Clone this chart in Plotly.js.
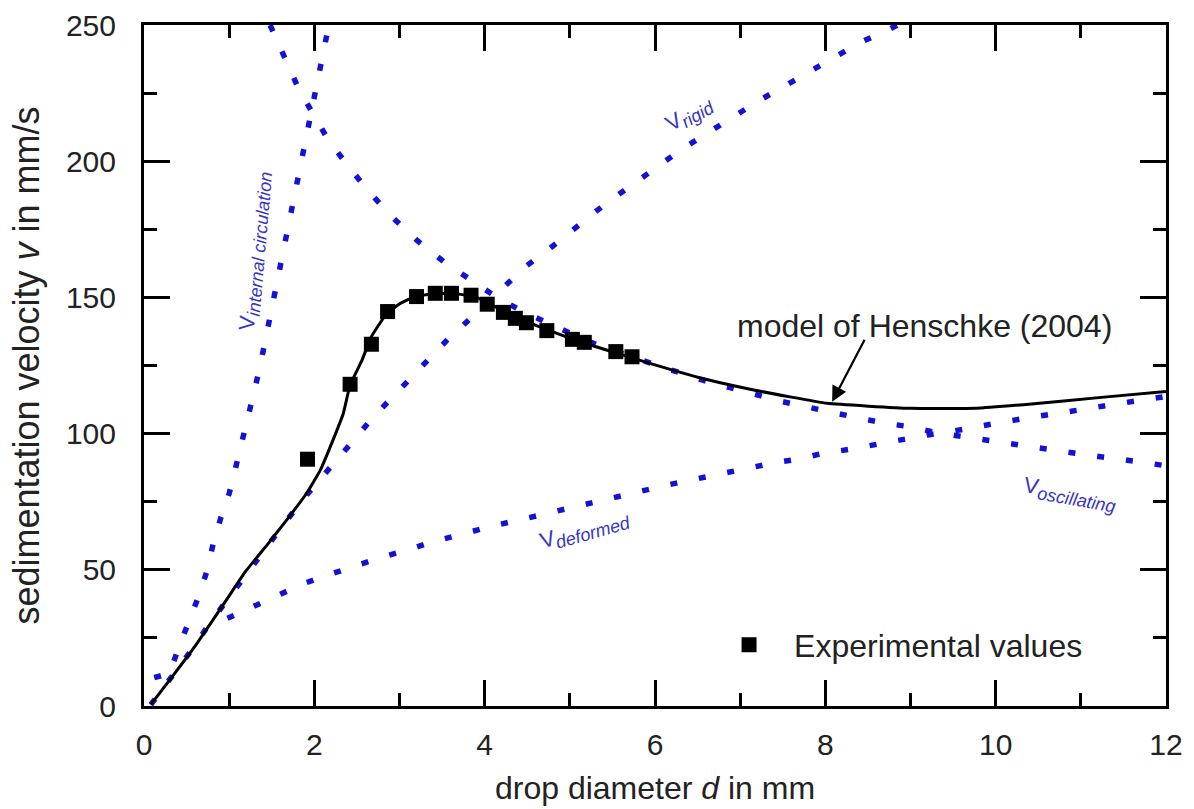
<!DOCTYPE html>
<html>
<head>
<meta charset="utf-8">
<script src="https://cdn.plot.ly/plotly-3.0.1.min.js"></script>
<style>html,body{margin:0;padding:0;background:#fff;}#chart{width:1194px;height:809px;}</style>
</head>
<body>
<div id="chart"></div>
<script>
// Experimental values
var expD = [1.92,2.42,2.67,2.86,3.20,3.42,3.61,3.84,4.03,4.22,4.36,4.49,4.73,5.03,5.17,5.54,5.73];
var expV = [90.6,118.1,132.8,144.8,150.3,151.5,151.5,150.8,147.5,144.5,142.3,140.7,137.8,134.6,133.5,130.1,128.2];

// Model of Henschke (2004)
var modelD = [0.08,0.3,0.6,0.98,1.19,1.46,1.69,1.91,2.07,2.22,2.34,2.42,2.56,2.67,2.85,3.01,3.18,3.45,3.7,3.9,4.1,4.5,5.0,5.5,5.94,6.55,7.16,8.02,8.99,9.77,10.42,11.24,12.0];
var modelV = [0.5,9.5,22,39.5,49.3,59.7,68.9,78.1,86.6,97.7,107.4,117.8,127,135.6,144.1,147.8,150.3,151.5,151.2,150,147,141,135,130,125.8,120.3,116,111.1,109.3,109.3,110.9,113.3,115.5];

// v_rigid
var rigidD = [0.08,0.56,0.77,1.0,1.44,1.68,1.91,2.16,2.43,2.69,2.98,3.27,3.57,3.87,4.16,4.48,4.79,5.09,5.40,5.70,6.00,6.30,6.61,6.92,7.22,7.52,7.83,8.14,8.43,8.75,8.85];
var rigidV = [0.5,20.6,30.3,40,58.5,68.3,77.5,86.9,96.4,106,115.6,125.2,134.7,143.3,152.1,161.3,168.6,176.3,183.9,190.6,197.4,204.1,210.2,216.6,222.2,227.6,233.1,238.7,243.9,248.4,250];

// v_oscillating
var oscD = [1.48,1.54,1.68,1.81,1.98,2.16,2.38,2.63,2.91,3.21,3.52,3.82,4.10,4.41,4.73,5.02,5.33,5.6,6.0,6.55,7.14,7.46,7.77,8.06,8.38,8.70,9.02,9.31,9.61,9.91,10.22,10.52,10.83,11.13,11.44,11.75,12.0];
var oscV = [250,246,236.5,227,217.6,208,198.9,189.2,179.6,170.8,163.1,157,150.9,145.4,140.5,136.6,132.5,129.5,125.3,119.7,114.4,112,109.9,107.8,105.8,103.8,102.4,100.3,98.9,97.4,95.8,94.3,93.1,91.9,90.7,89.3,88.2];

// v_deformed
var defD = [0.98,1.29,1.60,1.88,2.20,2.50,2.81,3.12,3.42,3.73,4.03,4.5,5.0,5.5,6.14,6.46,6.77,7.06,7.37,7.67,7.98,8.28,8.61,8.91,9.20,9.53,9.81,10.12,10.42,10.73,11.03,11.34,11.64,11.97];
var defV = [32.2,36.8,41.1,45,48.5,51.8,54.8,57.5,60.6,63,65.6,69,72.8,76.6,81.1,83.2,85.2,87.3,89.1,90.6,92.8,94.2,96.2,97.9,99.5,101.1,102.9,104.4,106,107.7,108.9,110.5,112,113.5];

// v_internal circulation
var icD = [0.12,0.30,0.40,0.53,0.64,0.74,0.81,0.90,1.0,1.08,1.16,1.22,1.30,1.37,1.43,1.50,1.56,1.63,1.68,1.75,1.81,1.86,1.93,1.99,2.05,2.10,2.16,2.17];
var icV = [10.4,12,20.8,30.6,40.1,49.6,59.3,68.9,78,88,97.7,106.8,116.3,125.8,135.2,144.8,154.6,164,173.5,183,192.5,201.9,211.5,221,230.4,240,249.4,250];

var FONT = 'Liberation Sans, Arial, Helvetica, sans-serif';
var BLUE = '#1212d6';
var LBLUE = '#3434c8';

function dotted(x, y, name) {
  return {x: x, y: y, mode: 'lines', type: 'scatter', name: name, showlegend: false,
    line: {color: BLUE, width: 5.5, dash: '7px,22px'}, hoverinfo: 'skip'};
}

var traces = [
  dotted(icD, icV, 'v internal circulation'),
  dotted(rigidD, rigidV, 'v rigid'),
  dotted(oscD, oscV, 'v oscillating'),
  dotted(defD, defV, 'v deformed'),
  {x: modelD, y: modelV, mode: 'lines', type: 'scatter', name: 'model of Henschke (2004)', showlegend: false,
    line: {color: '#000', width: 3, shape: 'spline', smoothing: 0.35}},
  {x: expD, y: expV, mode: 'markers', type: 'scatter', name: 'Experimental values', showlegend: true,
    marker: {symbol: 'square', size: 15, color: '#000'}}
];

var axisCommon = {
  showline: true, linewidth: 3, linecolor: '#000', mirror: 'ticks',
  ticks: 'inside', ticklen: 26, tickwidth: 3, tickcolor: '#000',
  showgrid: false, zeroline: false, automargin: false,
  tickfont: {family: FONT, size: 30, color: '#222'}
};

var layout = {
  width: 1194, height: 809,
  margin: {l: 144, r: 28, t: 25, b: 103},
  paper_bgcolor: '#fff', plot_bgcolor: '#fff',
  font: {family: FONT, color: '#222'},
  xaxis: Object.assign({}, axisCommon, {
    range: [0, 12], tick0: 0, dtick: 2, ticklabelstandoff: 10,
    minor: {ticks: 'inside', ticklen: 13, tickwidth: 3, tickcolor: '#000', dtick: 1, showgrid: false},
    title: {text: 'drop diameter <i>d</i> in mm', font: {family: FONT, size: 32, color: '#222'}, standoff: 17}
  }),
  yaxis: Object.assign({}, axisCommon, {
    range: [0, 250], tick0: 0, dtick: 50, ticklabelstandoff: 19,
    minor: {ticks: 'inside', ticklen: 13, tickwidth: 3, tickcolor: '#000', dtick: 25, showgrid: false},
    title: {text: 'sedimentation velocity <i>v</i> in mm/s', font: {family: FONT, size: 36, color: '#222'}, standoff: 16}
  }),
  showlegend: true,
  legend: {x: 0.548, y: 0.0896, xanchor: 'left', yanchor: 'middle', bgcolor: 'rgba(0,0,0,0)',
    font: {family: FONT, size: 32, color: '#222'}, itemwidth: 80},
  annotations: [
    {x: 9.17, y: 139.5, xref: 'x', yref: 'y', text: 'model of Henschke (2004)', showarrow: false,
      font: {family: FONT, size: 32, color: '#222'}},
    {x: 8.08, y: 111.7, ax: 8.47, ay: 135, xref: 'x', yref: 'y', axref: 'x', ayref: 'y', text: '',
      showarrow: true, arrowhead: 2, arrowsize: 1.4, arrowwidth: 2.2, arrowcolor: '#000'},
    {x: 1.30, y: 167, xref: 'x', yref: 'y', textangle: -85, showarrow: false,
      text: 'V<sub><i><span style="font-size:18px">internal circulation</span></i></sub>',
      font: {family: FONT, size: 22, color: LBLUE}},
    {x: 6.41, y: 217, xref: 'x', yref: 'y', textangle: -30, showarrow: false,
      text: 'V<sub><i><span style="font-size:18px">rigid</span></i></sub>',
      font: {family: FONT, size: 22, color: LBLUE}},
    {x: 5.18, y: 64.6, xref: 'x', yref: 'y', textangle: -16, showarrow: false,
      text: 'V<sub><i><span style="font-size:18px">deformed</span></i></sub>',
      font: {family: FONT, size: 22, color: LBLUE}},
    {x: 10.87, y: 77.5, xref: 'x', yref: 'y', textangle: 10, showarrow: false,
      text: 'V<sub><i><span style="font-size:18px">oscillating</span></i></sub>',
      font: {family: FONT, size: 22, color: LBLUE}}
  ]
};

Plotly.newPlot('chart', traces, layout, {displayModeBar: false, staticPlot: true});
</script>
</body>
</html>
